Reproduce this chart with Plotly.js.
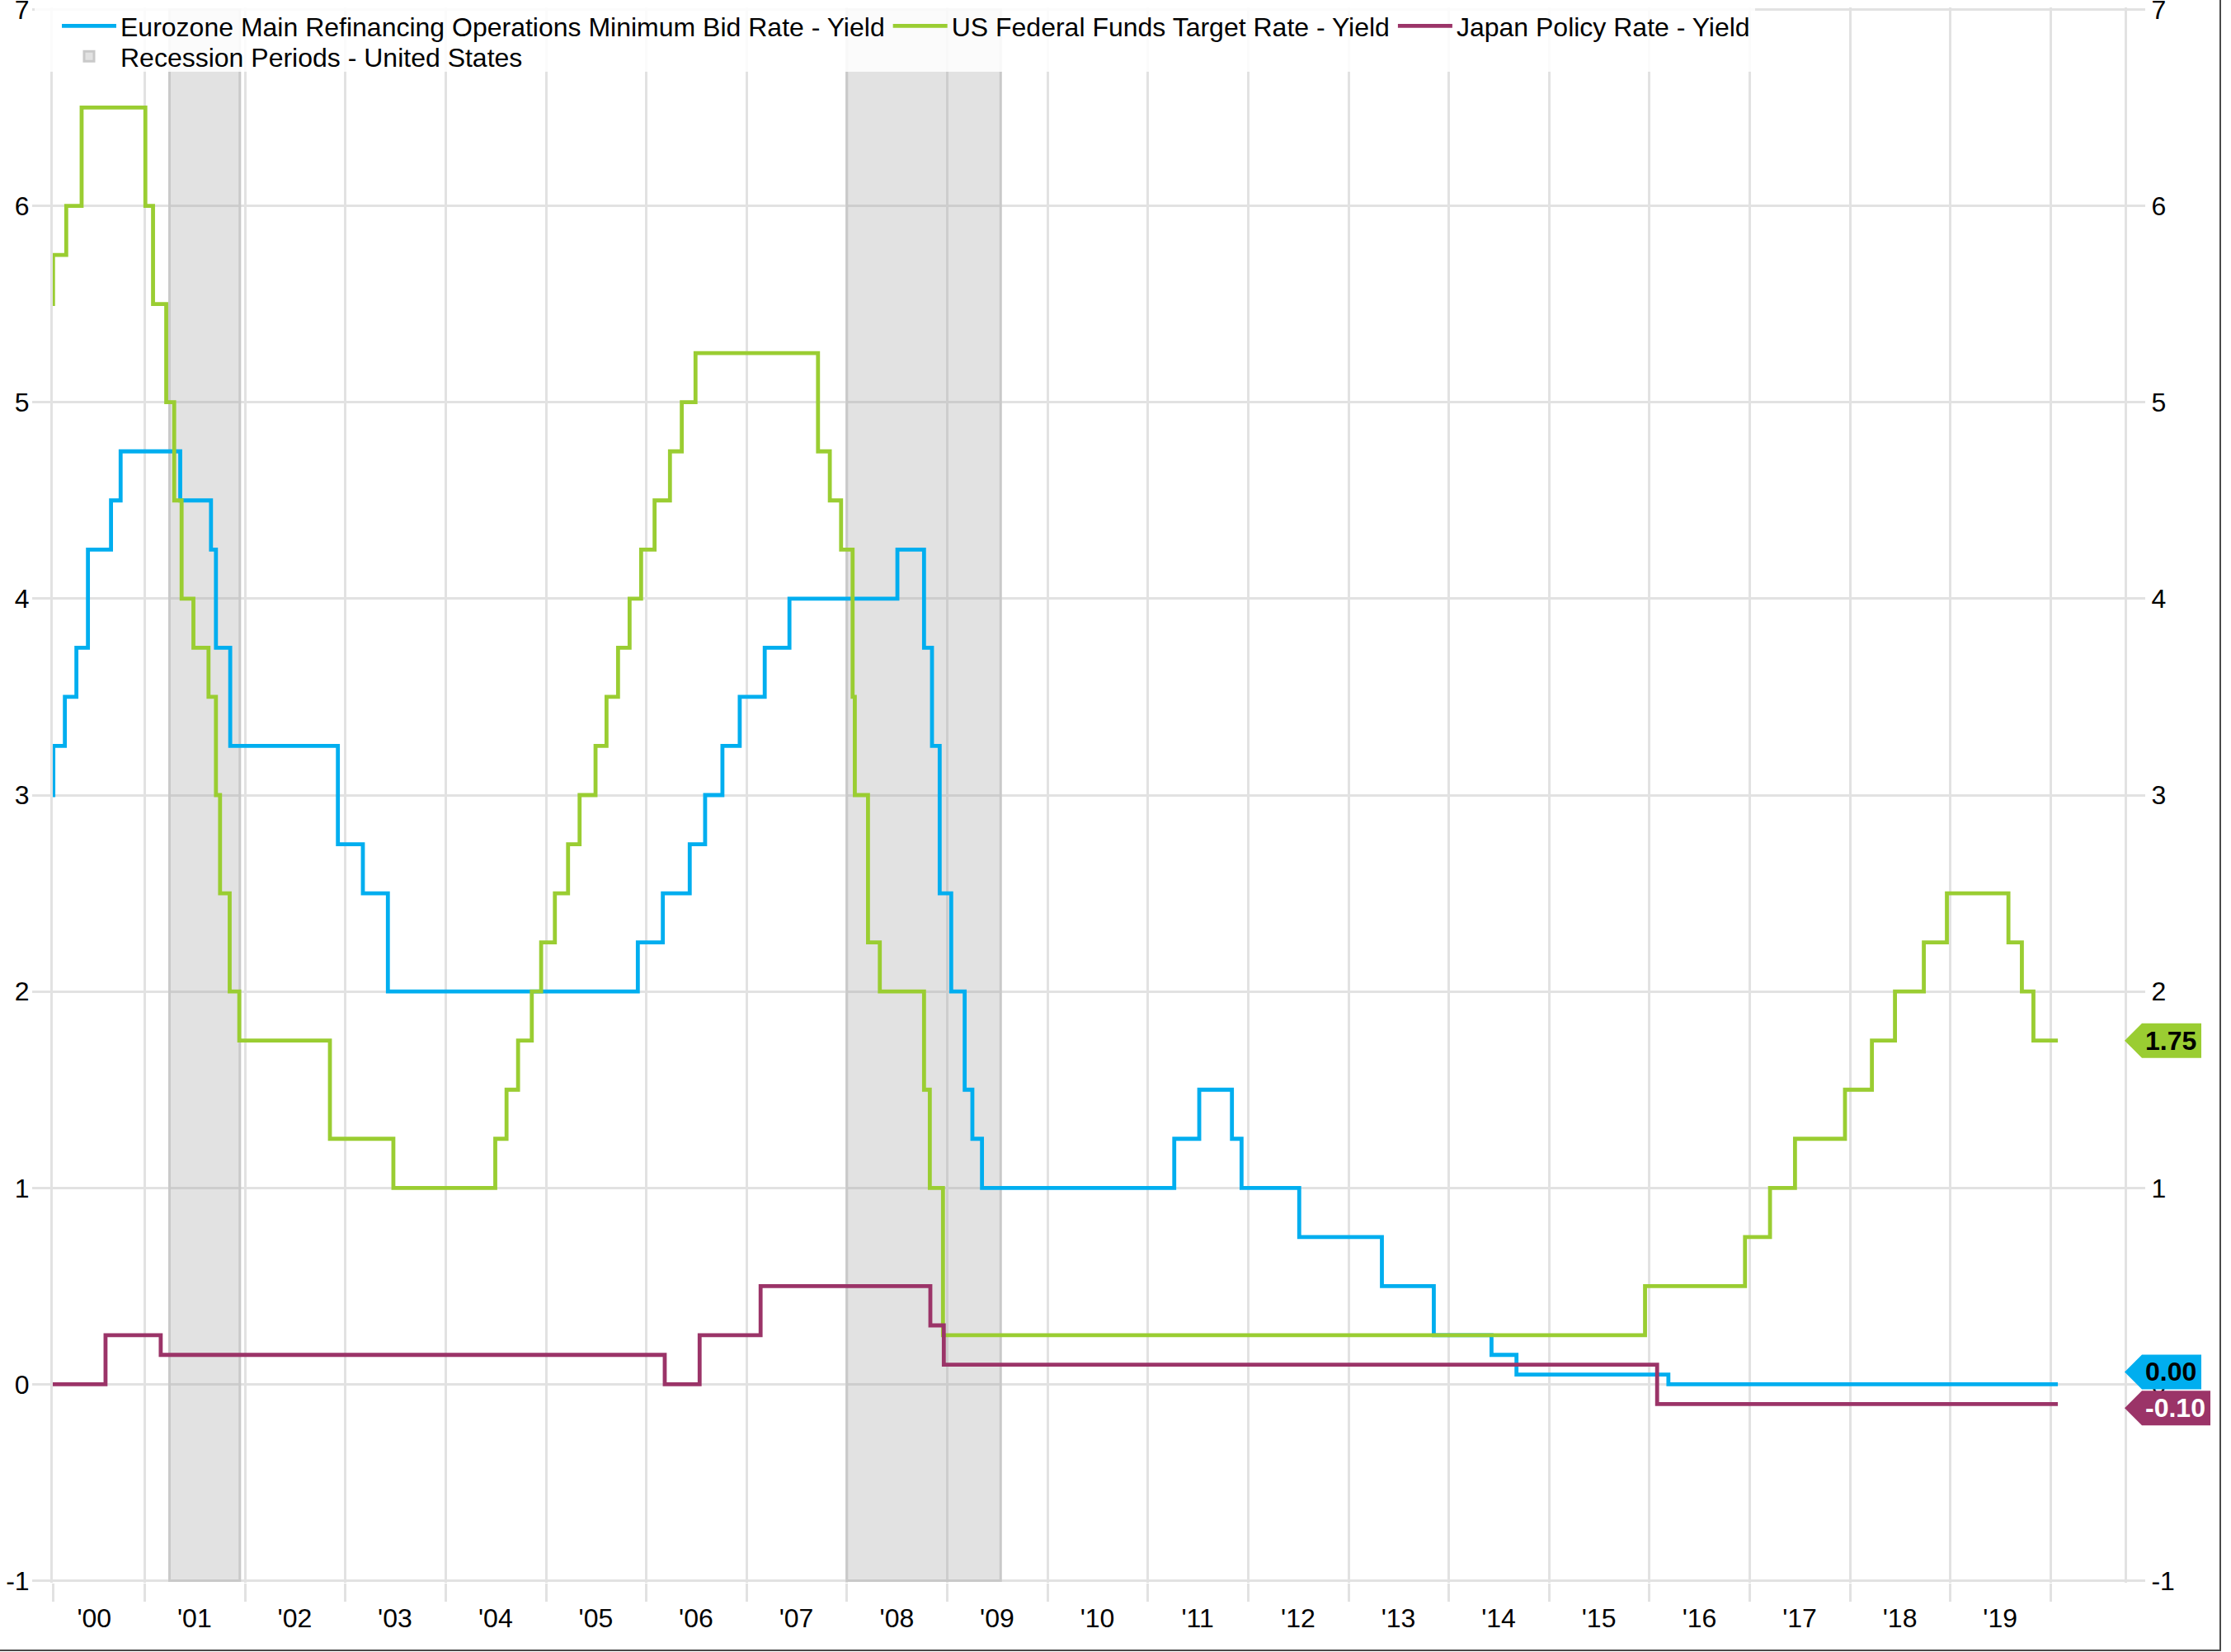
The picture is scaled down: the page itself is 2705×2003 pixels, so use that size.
<!DOCTYPE html>
<html>
<head>
<meta charset="utf-8">
<script src="https://cdn.plot.ly/plotly-3.0.1.min.js"></script>
<style>
html,body{margin:0;padding:0;background:#fff;}
#wrap{position:relative;width:2705px;height:2003px;overflow:hidden;}
#chart{width:2705px;height:2003px;}
#frame{position:absolute;left:0;top:0;width:2691px;height:2000px;border-right:2px solid #4a4a4a;border-bottom:2px solid #4a4a4a;pointer-events:none;}
</style>
</head>
<body>
<div id="wrap"><div id="chart"></div><div id="frame"></div></div>
<script>
// ---------------- DATA ----------------
const ecbDates = ['2000-02-01','2000-02-03','2000-03-16','2000-04-27','2000-06-08','2000-08-31','2000-10-05',
  '2001-05-10','2001-08-30','2001-09-17','2001-11-08','2002-12-05','2003-03-06','2003-06-05',
  '2005-12-01','2006-03-02','2006-06-08','2006-08-03','2006-10-05','2006-12-07','2007-03-08','2007-06-06',
  '2008-07-03','2008-10-08','2008-11-06','2008-12-04','2009-01-15','2009-03-05','2009-04-02','2009-05-07',
  '2011-04-07','2011-07-07','2011-11-03','2011-12-08','2012-07-05','2013-05-02','2013-11-07',
  '2014-06-05','2014-09-04','2016-03-10','2020-01-27'];
const ecbRates = [3.00,3.25,3.50,3.75,4.25,4.50,4.75,
  4.50,4.25,3.75,3.25,2.75,2.50,2.00,
  2.25,2.50,2.75,3.00,3.25,3.50,3.75,4.00,
  4.25,3.75,3.25,2.50,2.00,1.50,1.25,1.00,
  1.25,1.50,1.25,1.00,0.75,0.50,0.25,
  0.15,0.05,0.00,0.00];

const fedDates = ['2000-02-01','2000-02-02','2000-03-21','2000-05-16','2001-01-03','2001-01-31','2001-03-20',
  '2001-04-18','2001-05-15','2001-06-27','2001-08-21','2001-09-17','2001-10-02','2001-11-06','2001-12-11',
  '2002-11-06','2003-06-25','2004-06-30','2004-08-10','2004-09-21','2004-11-10','2004-12-14',
  '2005-02-02','2005-03-22','2005-05-03','2005-06-30','2005-08-09','2005-09-20','2005-11-01','2005-12-13',
  '2006-01-31','2006-03-28','2006-05-10','2006-06-29','2007-09-18','2007-10-31','2007-12-11',
  '2008-01-22','2008-01-30','2008-03-18','2008-04-30','2008-10-08','2008-10-29','2008-12-16',
  '2015-12-16','2016-12-14','2017-03-15','2017-06-14','2017-12-13','2018-03-21','2018-06-13',
  '2018-09-26','2018-12-19','2019-07-31','2019-09-18','2019-10-30','2020-01-27'];
const fedRates = [5.50,5.75,6.00,6.50,6.00,5.50,5.00,
  4.50,4.00,3.75,3.50,3.00,2.50,2.00,1.75,
  1.25,1.00,1.25,1.50,1.75,2.00,2.25,
  2.50,2.75,3.00,3.25,3.50,3.75,4.00,4.25,
  4.50,4.75,5.00,5.25,4.75,4.50,4.25,
  3.50,3.00,2.25,2.00,1.50,1.00,0.25,
  0.50,0.75,1.00,1.25,1.50,1.75,2.00,
  2.25,2.50,2.25,2.00,1.75,1.75];

const bojDates = ['2000-02-01','2000-08-11','2001-02-28','2006-03-09','2006-07-14','2007-02-21',
  '2008-10-31','2008-12-19','2016-01-29','2020-01-27'];
const bojRates = [0.00,0.25,0.15,0.00,0.25,0.50,0.30,0.10,-0.10,-0.10];

const recessionStart = ['2001-04-01','2008-01-01'];
const recessionEnd   = ['2001-12-13','2009-07-14'];

const seriesNames = ['Eurozone Main Refinancing Operations Minimum Bid Rate - Yield',
  'US Federal Funds Target Rate - Yield','Japan Policy Rate - Yield'];
const recessionName = 'Recession Periods - United States';

const labelYears = [2000,2001,2002,2003,2004,2005,2006,2007,2008,2009,2010,2011,2012,2013,2014,2015,2016,2017,2018,2019];
const labelText  = ["'00","'01","'02","'03","'04","'05","'06","'07","'08","'09","'10","'11","'12","'13","'14","'15","'16","'17","'18","'19"];
const gridYears  = [2001,2002,2003,2004,2005,2006,2007,2008,2009,2010,2011,2012,2013,2014,2015,2016,2017,2018,2019,2020];
const yTicks = [-1,0,1,2,3,4,5,6,7];
const yTickText = ['-1','0','1','2','3','4','5','6','7'];

// ---------------- STYLE ----------------
const W = 2705, H = 2003, ML = 64, MR = 129, MT = 9, MB = 84;
const FONT = 'Liberation Sans, Arial, Helvetica, sans-serif';
const GRID = '#e2e2e2';
const BLUE = '#00aeef', GREEN = '#9acd32', PLUM = '#9b3468';
const xStart = '2000-02-01', xEnd = '2020-09-26';
const yRange = [-1.01, 7.01];
const LW = 4.8;

const plotW = W - ML - MR, plotH = H - MT - MB;
const pxX = px => (px - ML) / plotW;
const pxY = py => (H - MB - py) / plotH;

const toMs = s => new Date(s + 'T00:00:00Z').getTime();

const bars = {
  type: 'bar',
  x: recessionStart.map((s, i) => (toMs(s) + toMs(recessionEnd[i])) / 2),
  width: recessionStart.map((s, i) => toMs(recessionEnd[i]) - toMs(s)),
  y: recessionStart.map(() => yTicks[yTicks.length - 1] - yTicks[0]),
  base: yTicks[0],
  name: recessionName,
  legend: 'legend2',
  marker: {color: 'rgba(150,150,150,0.28)', line: {color: '#c9c9c9', width: 3}},
  hoverinfo: 'skip'
};
const mk = (x, y, name, color, xa, ya) => ({
  type: 'scatter', mode: 'lines', x, y, name, xaxis: xa, yaxis: ya,
  line: {color, width: LW, shape: 'hv'}, legend: 'legend'
});
const traces = [bars,
  mk(ecbDates, ecbRates, seriesNames[0], BLUE, 'x', 'y'),
  mk(fedDates, fedRates, seriesNames[1], GREEN, 'x', 'y'),
  mk(bojDates, bojRates, seriesNames[2], PLUM, 'x2', 'y2')];

// end-value tags
const cv = document.createElement('canvas').getContext('2d');
cv.font = 'bold 32px "Liberation Sans"';
const tags = [
  {v: fedRates[fedRates.length - 1], fill: GREEN, color: '#000', shift: 0},
  {v: ecbRates[ecbRates.length - 1], fill: BLUE, color: '#000', shift: 15},
  {v: bojRates[bojRates.length - 1], fill: PLUM, color: '#fff', shift: -5}
];
const shapes = [], annotations = [];
// legend background
shapes.push({type: 'rect', xref: 'paper', yref: 'paper', x0: pxX(42), x1: pxX(2128), y0: pxY(87), y1: pxY(9),
  fillcolor: 'rgba(255,255,255,0.86)', line: {width: 0}, layer: 'above'});
tags.forEach(t => {
  const txt = t.v.toFixed(2);
  const w = Math.round(cv.measureText(txt).width + 10);
  const s = t.shift;
  shapes.push({type: 'path', xref: 'paper', yref: 'y', xsizemode: 'pixel', ysizemode: 'pixel',
    xanchor: 1, yanchor: t.v, layer: 'above',
    path: `M0,${s} L21,${s + 21} L${21 + w},${s + 21} L${21 + w},${s - 21} L21,${s - 21} Z`,
    fillcolor: t.fill, line: {width: 0}});
  annotations.push({xref: 'paper', x: 1, xanchor: 'right', xshift: 21 + w - 5,
    yref: 'y', y: t.v, yanchor: 'middle', yshift: s, showarrow: false, borderpad: 0,
    text: '<b>' + txt + '</b>', font: {family: FONT, size: 32, color: t.color}});
});

const tickFont = {family: FONT, size: 32, color: '#000'};
const layout = {
  width: W, height: H,
  margin: {l: ML, r: MR, t: MT, b: MB, pad: 0, autoexpand: false},
  paper_bgcolor: '#fff', plot_bgcolor: '#fff',
  font: {family: FONT, size: 32, color: '#000'},
  showlegend: true,
  bargap: 0,
  xaxis: {
    type: 'date', range: [xStart, xEnd], automargin: false,
    tickmode: 'array',
    tickvals: [xStart].concat(gridYears.map(y => y + '-01-01')),
    showticklabels: false,
    ticks: 'outside', ticklen: 22, tickwidth: 3, tickcolor: GRID,
    showgrid: true, gridcolor: GRID, gridwidth: 3, zeroline: false, showline: false
  },
  xaxis2: {
    type: 'date', range: [xStart, xEnd], overlaying: 'x', anchor: 'y2', side: 'bottom', automargin: false,
    tickmode: 'array', tickvals: labelYears.map(y => y + '-07-01'), ticktext: labelText,
    ticks: 'outside', ticklen: 15, tickcolor: 'rgba(0,0,0,0)',
    showgrid: false, zeroline: false, showline: false, ticklabeloverflow: 'allow',
    tickfont: tickFont
  },
  yaxis: {
    range: yRange, automargin: false, tickmode: 'array', tickvals: yTicks, ticktext: yTickText,
    ticks: 'outside', ticklen: 22, tickwidth: 3, tickcolor: GRID,
    showgrid: true, gridcolor: GRID, gridwidth: 3, zeroline: false,
    showline: true, mirror: true, linecolor: GRID, linewidth: 3,
    ticklabelstandoff: -3, ticklabeloverflow: 'allow',
    tickfont: tickFont
  },
  yaxis2: {
    range: yRange, automargin: false, overlaying: 'y', side: 'right', anchor: 'x2',
    tickmode: 'array', tickvals: yTicks, ticktext: yTickText,
    ticks: 'outside', ticklen: 24, tickwidth: 3, tickcolor: GRID,
    showgrid: false, zeroline: false, showline: false,
    ticklabelstandoff: 1, ticklabeloverflow: 'allow',
    tickfont: tickFont
  },
  legend: {
    orientation: 'h', xref: 'container', yref: 'container',
    x: 70 / W, xanchor: 'left', y: 1 - 4 / H, yanchor: 'top',
    bgcolor: 'rgba(0,0,0,0)', borderwidth: 0, itemwidth: 66,
    font: {family: FONT, size: 32, color: '#000'}, traceorder: 'normal'
  },
  legend2: {
    orientation: 'h', xref: 'container', yref: 'container',
    x: 70 / W, xanchor: 'left', y: 1 - 41 / H, yanchor: 'top',
    bgcolor: 'rgba(0,0,0,0)', borderwidth: 0, itemwidth: 66,
    font: {family: FONT, size: 32, color: '#000'}
  },
  shapes, annotations,
  hovermode: false
};

Plotly.newPlot('chart', traces, layout, {staticPlot: true, displayModeBar: false});
</script>
</body>
</html>
